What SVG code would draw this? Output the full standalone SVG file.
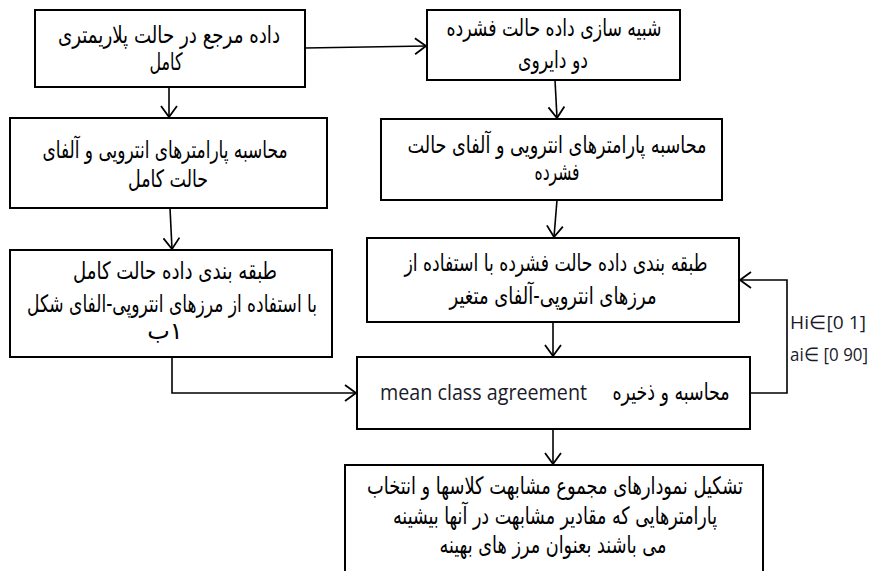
<svg xmlns="http://www.w3.org/2000/svg" width="881" height="571" viewBox="0 0 881 571">
<style>
.box{fill:#fff;stroke:#000;stroke-width:2}
.fa{font-family:"DejaVu Sans",sans-serif;font-size:24px;fill:#000;text-anchor:middle;direction:rtl}
.en{font-family:"Open Sans","Liberation Sans",sans-serif;font-size:21px;fill:#1a1a2a}
.lb{font-family:"Open Sans","Liberation Sans",sans-serif;font-size:18.5px;fill:#1a1a2a}
.c{fill:none;stroke:#000;stroke-width:1.6}
</style>
<defs>
<marker id="arr" markerUnits="userSpaceOnUse" markerWidth="14" markerHeight="18" refX="12" refY="9" orient="auto">
<path d="M1,1 L12,9 L1,17" fill="none" stroke="#000" stroke-width="1.8"/>
</marker>
</defs>
<rect width="881" height="571" fill="#fff"/>
<g id="connectors">
<line class="c" x1="305" y1="48" x2="426" y2="46" marker-end="url(#arr)"/>
<line class="c" x1="169" y1="87" x2="169" y2="117" marker-end="url(#arr)"/>
<line class="c" x1="555" y1="80" x2="557" y2="118" marker-end="url(#arr)"/>
<line class="c" x1="170" y1="208" x2="172" y2="249" marker-end="url(#arr)"/>
<line class="c" x1="557" y1="200" x2="554" y2="237" marker-end="url(#arr)"/>
<line class="c" x1="553" y1="322" x2="553" y2="356" marker-end="url(#arr)"/>
<polyline class="c" points="172,357 172,393 356,393" marker-end="url(#arr)"/>
<polyline class="c" points="750,393 787,393 787,280 740,280" marker-end="url(#arr)"/>
<line class="c" x1="553" y1="429" x2="553" y2="464" marker-end="url(#arr)"/>
</g>
<g id="n1">
<rect class="box" x="35" y="10" width="270" height="77"/>
<text class="fa" x="169" y="43" textLength="222" lengthAdjust="spacingAndGlyphs">داده مرجع در حالت پلاریمتری</text>
<text class="fa" x="166" y="70" textLength="33" lengthAdjust="spacingAndGlyphs">کامل</text>
</g>
<g id="n2">
<rect class="box" x="427" y="10" width="253" height="70"/>
<text class="fa" x="554" y="36" textLength="215" lengthAdjust="spacingAndGlyphs">شبیه سازی داده حالت فشرده</text>
<text class="fa" x="553" y="68" textLength="70" lengthAdjust="spacingAndGlyphs">دو دایروی</text>
</g>
<g id="n3">
<rect class="box" x="10" y="118" width="317" height="90"/>
<text class="fa" x="165" y="158" textLength="245" lengthAdjust="spacingAndGlyphs">محاسبه پارامترهای انترویی و آلفای</text>
<text class="fa" x="168" y="187" textLength="80" lengthAdjust="spacingAndGlyphs">حالت کامل</text>
</g>
<g id="n4">
<rect class="box" x="381" y="119" width="341" height="81"/>
<text class="fa" x="557" y="153" textLength="299" lengthAdjust="spacingAndGlyphs">محاسبه پارامترهای انترویی و آلفای حالت</text>
<text class="fa" x="557" y="180" textLength="45" lengthAdjust="spacingAndGlyphs">فشرده</text>
</g>
<g id="n5">
<rect class="box" x="10" y="250" width="322" height="107"/>
<text class="fa" x="175" y="279" textLength="204" lengthAdjust="spacingAndGlyphs">طبقه بندی داده حالت کامل</text>
<text class="fa" x="172" y="312" textLength="290" lengthAdjust="spacingAndGlyphs">با استفاده از مرزهای انتروپی-الفای شکل</text>
<text class="fa" x="165" y="339">۱ب</text>
</g>
<g id="n6">
<rect class="box" x="367" y="238" width="372" height="84"/>
<text class="fa" x="556" y="271" textLength="303" lengthAdjust="spacingAndGlyphs">طبقه بندی داده حالت فشرده با استفاده از</text>
<text class="fa" x="553" y="304" textLength="207" lengthAdjust="spacingAndGlyphs">مرزهای انتروپی-آلفای متغیر</text>
</g>
<g id="n7">
<rect class="box" x="357" y="357" width="393" height="72"/>
<text class="en" x="380" y="400" textLength="207" lengthAdjust="spacingAndGlyphs">mean class agreement</text>
<text class="fa" x="671" y="400" textLength="117" lengthAdjust="spacingAndGlyphs">محاسبه و ذخیره</text>
</g>
<g id="n8">
<rect class="box" x="345" y="465" width="418" height="110"/>
<text class="fa" x="555" y="494" textLength="376" lengthAdjust="spacingAndGlyphs">تشکیل نمودارهای مجموع مشابهت کلاسها و انتخاب</text>
<text class="fa" x="555" y="524" textLength="324" lengthAdjust="spacingAndGlyphs">پارامترهایی که مقادیر مشابهت در آنها بیشینه</text>
<text class="fa" x="553" y="553" textLength="227" lengthAdjust="spacingAndGlyphs">می باشند بعنوان مرز های بهینه</text>
</g>
<g id="labels">
<text class="lb" x="790" y="329" textLength="76" lengthAdjust="spacingAndGlyphs">Hi∈[0 1]</text>
<text class="lb" x="790" y="361" textLength="78" lengthAdjust="spacingAndGlyphs">ai∈ [0 90]</text>
</g>
</svg>
